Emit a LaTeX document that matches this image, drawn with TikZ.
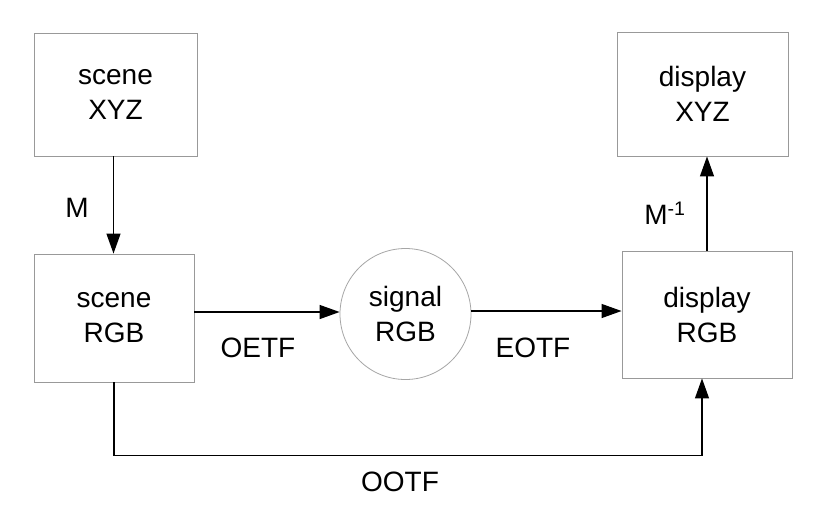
\documentclass[tikz,border=0pt]{standalone}
\usepackage{fontspec}
\setmainfont{Liberation Sans}
\usetikzlibrary{arrows.meta}
\begin{document}
\begin{tikzpicture}[x=1pt,y=-1pt,
  box/.style={draw=black!40,line width=0.9pt,rectangle,align=center,inner sep=0pt,
    font=\fontsize{28}{35}\selectfont},
  sigc/.style={draw=black!35,line width=0.8pt,circle,align=center,inner sep=0pt,
    font=\fontsize{28}{35}\selectfont},
  arr/.style={draw=black,line width=1.3pt,-{Triangle[length=20pt,width=14pt]}},
  lbl/.style={font=\fontsize{28}{35}\selectfont,inner sep=0pt}]
\useasboundingbox[fill=white] (0,0) rectangle (828,504);
\node[box,minimum width=163pt,minimum height=123pt] (sx) at (115.5,94.5) {scene\\XYZ};
\node[box,minimum width=160pt,minimum height=128pt] (sr) at (114,318) {scene\\RGB};
\node[sigc,minimum size=131pt] (sig) at (405.5,314) {signal\\RGB};
\node[box,minimum width=170pt,minimum height=127pt] (dr) at (707,314.5) {display\\RGB};
\node[box,minimum width=171pt,minimum height=124pt] (dx) at (702.5,94) {display\\XYZ};
\draw[arr] ([xshift=-2pt]sx.south) -- ([xshift=-2pt]sx.south |- sr.north);
\draw[arr] ([yshift=2pt]sig.west -| sr.east) -- ([yshift=2pt]sig.west);
\draw[arr] ([yshift=3pt]sig.east) -- ([yshift=3pt]sig.east -| dr.west);
\draw[arr] (dr.north) -- (dr.north |- dx.south);
\draw[arr] (sr.south) -- ++(0,73) -| ([xshift=-5pt]dr.south);
\node[lbl] (lm) at (77,208) {M};
\node[lbl] (lmi) at (665,213) {M\textsuperscript{-1}};
\node[lbl] (loe) at (258,348) {OETF};
\node[lbl] (leo) at (533,348) {EOTF};
\node[lbl] (loo) at (400,482) {OOTF};
\end{tikzpicture}
\end{document}
